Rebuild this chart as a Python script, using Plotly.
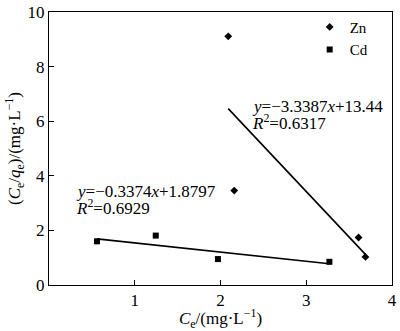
import plotly.graph_objects as go

zn_x = [2.09, 2.16, 3.61, 3.69]
zn_y = [9.11, 3.46, 1.74, 1.03]
cd_x = [0.56, 1.245, 1.97, 3.27]
cd_y = [1.60, 1.81, 0.95, 0.85]

zn_slope, zn_icpt = -3.3387, 13.44
cd_slope, cd_icpt = -0.3374, 1.8797

FONT = "Liberation Serif, Times New Roman, serif"

fig = go.Figure()
fig.add_trace(go.Scatter(x=zn_x, y=zn_y, mode="markers", name="Zn",
                         marker=dict(symbol="diamond", size=6, color="black")))
fig.add_trace(go.Scatter(x=cd_x, y=cd_y, mode="markers", name="Cd",
                         marker=dict(symbol="square", size=6, color="black")))

zx = [min(zn_x), max(zn_x)]
fig.add_trace(go.Scatter(x=zx, y=[zn_slope * v + zn_icpt for v in zx], mode="lines",
                         line=dict(color="black", width=1.6), showlegend=False))
cx = [min(cd_x), max(cd_x)]
fig.add_trace(go.Scatter(x=cx, y=[cd_slope * v + cd_icpt for v in cx], mode="lines",
                         line=dict(color="black", width=1.6), showlegend=False))

ann = [
    (2.345, 6.53, "<i>y</i>=−3.3387<i>x</i>+13.44"),
    (2.345, 5.98, "<i>R</i><sup>2</sup>=0.6317"),
    (0.287, 3.44, "<i>y</i>=−0.3374<i>x</i>+1.8797"),
    (0.287, 2.84, "<i>R</i><sup>2</sup>=0.6929"),
]
for x, y, t in ann:
    fig.add_annotation(x=x, y=y, text=t, showarrow=False, xanchor="left", yanchor="middle",
                       font=dict(family=FONT, size=17, color="black"))

axis_common = dict(showline=True, linecolor="black", linewidth=1, mirror=True,
                   ticks="inside", ticklen=5, tickcolor="black", showgrid=False, zeroline=False,
                   ticklabeloverflow="allow",
                   tickfont=dict(family=FONT, size=17, color="black"))

fig.update_layout(
    width=400, height=331,
    margin=dict(l=49, r=3, t=4, b=46),
    paper_bgcolor="white", plot_bgcolor="white",
    xaxis=dict(range=[0, 4], tickvals=[1, 2, 3, 4],
               title=dict(text="<i>C</i><sub>e</sub>/(mg·L<sup>−1</sup>)", standoff=4,
                          font=dict(family=FONT, size=17, color="black")),
               **axis_common),
    yaxis=dict(range=[0, 10], tickvals=[0, 2, 4, 6, 8, 10],
               title=dict(text="(<i>C</i><sub>e</sub>/<i>q</i><sub>e</sub>)/(mg·L<sup>−1</sup>)", standoff=2,
                          font=dict(family=FONT, size=17, color="black")),
               **axis_common),
    legend=dict(x=0.76, y=1.005, xanchor="left", yanchor="top", bgcolor="rgba(0,0,0,0)",
                font=dict(family=FONT, size=15, color="black"), tracegroupgap=0,
                itemwidth=30),
    showlegend=True,
)

fig.write_html("out.html")
